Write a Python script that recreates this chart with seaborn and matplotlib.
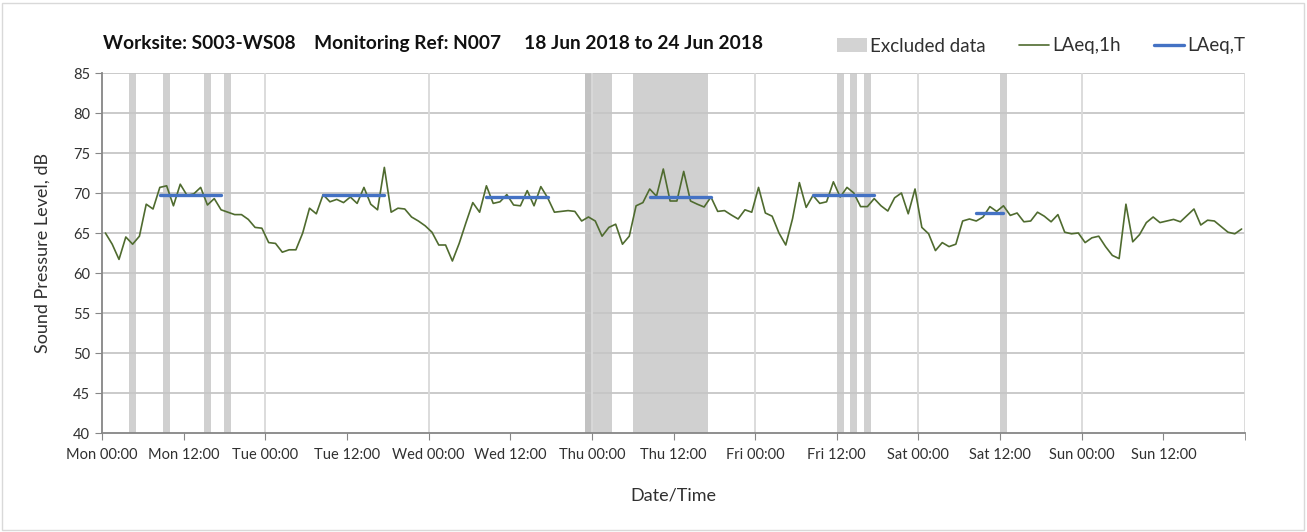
import numpy as np
import pandas as pd
import matplotlib
matplotlib.use("Agg")
import matplotlib.pyplot as plt
import seaborn as sns
from matplotlib.patches import Patch
from matplotlib.lines import Line2D

# hourly LAeq,1h, Mon 00:00 -> Sun 23:00 (168 values)
laeq_1h = [
    65.0, 63.6, 61.7, 64.5, 63.6, 64.6, 68.6, 68.0, 70.7, 70.9, 68.4, 71.1,
    69.7, 69.9, 70.7, 68.5, 69.3, 67.9, 67.6, 67.3, 67.3, 66.7, 65.7, 65.6,
    63.8, 63.7, 62.6, 62.9, 62.9, 65.0, 68.1, 67.4, 69.8, 68.9, 69.2, 68.8,
    69.5, 68.7, 70.7, 68.6, 67.9, 73.2, 67.6, 68.1, 68.0, 67.0, 66.5, 65.9,
    65.1, 63.5, 63.5, 61.5, 63.7, 66.3, 68.8, 67.6, 70.9, 68.7, 68.9, 69.8,
    68.5, 68.4, 70.3, 68.4, 70.8, 69.4, 67.6, 67.7, 67.8, 67.7, 66.5, 67.0,
    66.5, 64.6, 65.7, 66.1, 63.6, 64.6, 68.4, 68.8, 70.5, 69.6, 73.0, 69.0,
    69.0, 72.7, 69.0, 68.6, 68.25, 69.5, 67.7, 67.8, 67.25, 66.75, 67.9, 67.6,
    70.7, 67.5, 67.1, 65.0, 63.5, 66.8, 71.3, 68.2, 69.7, 68.7, 68.9, 71.4,
    69.5, 70.7, 70.0, 68.3, 68.3, 69.3, 68.4, 67.75, 69.4, 70.0, 67.4, 70.5,
    65.7, 64.9, 62.8, 63.8, 63.3, 63.6, 66.5, 66.75, 66.5, 67.0, 68.3, 67.7,
    68.4, 67.2, 67.5, 66.4, 66.5, 67.6, 67.1, 66.4, 67.3, 65.1, 64.9, 65.0,
    63.8, 64.4, 64.6, 63.3, 62.2, 61.8, 68.6, 63.9, 64.8, 66.3, 67.0, 66.3,
    66.5, 66.7, 66.4, 67.2, 68.0, 66.0, 66.6, 66.5, 65.8, 65.1, 64.9, 65.5,
]

# LAeq,T periods (start hour, end hour, level)
period_start = [8, 32, 56, 80, 104, 128]
period_end = [18, 42, 66, 90, 114, 133]
period_level = [69.8, 69.8, 69.5, 69.5, 69.75, 67.45]

# excluded data (start hour, end hour)
excl_start = [4, 9, 15, 18, 71, 71, 78, 108, 110, 112, 132]
excl_end = [5, 10, 16, 19, 72, 75, 89, 109, 111, 113, 133]

day_names = ["Mon", "Tue", "Wed", "Thu", "Fri", "Sat", "Sun"]
tick_labels = [f"{d} {h}" for d in day_names for h in ["00:00", "12:00"]]

green = "#4f6b2f"
blue = "#4472c4"
grey_band = "#bdbdbd"

sns.set_style("white")
plt.rcParams["font.family"] = ["Lato", "DejaVu Sans"]

df = pd.DataFrame({"hour": np.arange(len(laeq_1h)) + 0.5, "level": laeq_1h})
rows = []
for k, (s, e, v) in enumerate(zip(period_start, period_end, period_level)):
    rows.append({"hour": s + 0.5, "level": v, "period": k})
    rows.append({"hour": e - 0.5, "level": v, "period": k})
dft = pd.DataFrame(rows)

fig = plt.figure(figsize=(13.07, 5.32), dpi=100)
ax = fig.add_axes([102 / 1307, 1 - 433 / 532, 1143 / 1307, 360 / 532])

for s, e in zip(excl_start, excl_end):
    ax.axvspan(s, e, color=grey_band, alpha=0.7, lw=0, zorder=1)

sns.lineplot(data=df, x="hour", y="level", color=green, linewidth=1.2, ax=ax, zorder=4)
sns.lineplot(data=dft, x="hour", y="level", units="period", estimator=None,
             color=blue, linewidth=2.4, ax=ax, zorder=5)

ax.set_xlim(0, 168)
ax.set_ylim(40, 85)
ax.set_yticks(np.arange(40, 86, 5))
ax.set_xticks(np.arange(0, 168, 12))
ax.set_xticks(np.arange(0, 169, 12), minor=True)
ax.set_xticklabels(tick_labels, fontsize=10.5, color="#303030")
ax.tick_params(axis="y", labelsize=10.5, labelcolor="#303030", length=5, color="#868686", direction="out", left=True)
ax.tick_params(axis="x", which="both", length=5, color="#868686", direction="out", bottom=True, pad=6)

for y in np.arange(45, 86, 5):
    ax.axhline(y, color="#c6c6c6", lw=1.3, zorder=2)
for x in np.arange(24, 169, 24):
    ax.axvline(x, color="#d9d9d9", lw=1.3, zorder=2)

for side in ["top", "right"]:
    ax.spines[side].set_visible(False)
for side in ["left", "bottom"]:
    ax.spines[side].set_color("#868686")
    ax.spines[side].set_linewidth(1.3)
    ax.spines[side].set_zorder(6)

ax.set_xlabel("Date/Time", fontsize=13, color="#303030", labelpad=18)
ax.set_ylabel("Sound Pressure Level, dB", fontsize=13, color="#303030", labelpad=16)

fig.text(103 / 1307, 1 - 43 / 532,
         "Worksite: S003-WS08    Monitoring Ref: N007     18 Jun 2018 to 24 Jun 2018",
         fontsize=13.8, fontweight="bold", va="center", ha="left", color="#111111")

handles = [
    Patch(facecolor="#d3d3d3", edgecolor="none"),
    Line2D([], [], color=green, lw=1.2),
    Line2D([], [], color=blue, lw=2.4),
]
fig.legend(handles, ["Excluded data", "LAeq,1h", "LAeq,T"], ncol=3, frameon=False,
           loc="center right", bbox_to_anchor=(1262 / 1307, 1 - 46 / 532),
           fontsize=13.5, handlelength=1.6, handletextpad=0.15, columnspacing=1.8,
           labelcolor="#303030")

fig.patches.append(plt.Rectangle((2 / 1307, 2 / 532), 1302 / 1307, 527 / 532,
                                 transform=fig.transFigure, fill=False,
                                 edgecolor="#d9d9d9", lw=1))

fig.savefig("out.png", dpi=100)
